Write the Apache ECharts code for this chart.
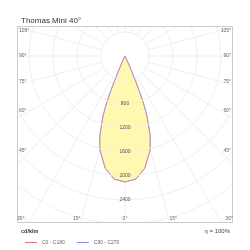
<!DOCTYPE html>
<html><head><meta charset="utf-8">
<script src="https://cdn.jsdelivr.net/npm/echarts@6/dist/echarts.min.js"></script>
<style>html,body{margin:0;padding:0;background:#fff}#c{width:250px;height:250px}</style>
</head><body><div id="c"></div>
<script>
// ---- data ----
const chartTitle = 'Thomas Mini 40°';
const unitLabel = 'cd/klm';
const efficiencyLabel = 'η = 100%';
const seriesNames = ['C0 - C180', 'C90 - C270'];
const gammaAngles = [0, 5, 10, 15, 17.5, 20, 21, 22, 23, 24, 25, 27.5, 30, 35, 40, 50, 60, 70, 80, 90];
const c0c180 =      [2100, 2060, 1900, 1620, 1400, 1080, 920, 700, 450, 220, 90, 20, 5, 0, 0, 0, 0, 0, 0, 0];
const c90c270 =     [2100, 2060, 1900, 1620, 1400, 1080, 920, 700, 450, 220, 90, 20, 5, 0, 0, 0, 0, 0, 0, 0];
const radiusLabels = [800, 1200, 1600, 2000, 2400];
const edgeAngles = [105, 90, 75, 60, 45, 30, 15, 0];

// ---- layout ----
const FONT = 'Liberation Sans';
const CX = 125, CY = 56;
const FR = {x0: 17, y0: 26, x1: 233, y1: 223};
const RMAX = 3600, RPX = 216;
const GRID = '#efefef';

function toPolar(side, values) {
  return gammaAngles.map((g, i) => [values[i], side < 0 ? (g === 0 ? 0 : 360 - g) : g]);
}
function lobe(values) {
  const left = toPolar(-1, values).slice().reverse();
  const right = toPolar(1, values).slice(1);
  return left.concat(right);
}

const chart = echarts.init(document.getElementById('c'));

function edgeHit(a, side) {
  const rad = a * Math.PI / 180;
  const dx = side * Math.sin(rad), dy = Math.cos(rad);
  let t = Infinity, kind = 'side';
  if (Math.abs(dx) > 1e-9) t = (side < 0 ? (CX - FR.x0) : (FR.x1 - CX)) / Math.abs(dx);
  if (dy > 1e-9) { const ty = (FR.y1 - CY) / dy; if (ty < t) { t = ty; kind = 'bottom'; } }
  if (dy < -1e-9) { const ty = (CY - FR.y0) / -dy; if (ty < t) { t = ty; kind = 'top'; } }
  return {x: CX + dx * t, y: CY + dy * t, kind};
}
const labelEls = [];
[-1, 1].forEach(side => {
  edgeAngles.forEach(a => {
    if (a === 0 && side > 0) return;
    const h = edgeHit(a, side);
    let x, y, align;
    if (h.kind === 'bottom') {
      x = CX + (h.x - CX) * 1.08; y = 219; align = 'center';
    } else {
      y = Math.max(31, CY + (h.y - CY) * 0.88);
      x = side < 0 ? 19 : 231; align = side < 0 ? 'left' : 'right';
    }
    labelEls.push({type: 'text', z: 210, x, y, style: {text: a + '°', fill: '#666', font: '5px ' + FONT, textAlign: align, textVerticalAlign: 'middle'}});
  });
});

const option = {
  animation: false,
  title: {text: chartTitle, left: 16, top: 12, z: 300, textStyle: {fontSize: 8, fontWeight: 'normal', color: '#333', fontFamily: FONT}},
  legend: {
    left: 20, top: 235, z: 300, itemWidth: 12, itemHeight: 1, itemGap: 12, icon: 'rect',
    data: seriesNames,
    textStyle: {fontSize: 5, color: '#666', fontFamily: FONT}
  },
  polar: [
    {center: [CX, CY], radius: RPX},
    {center: [CX, CY], radius: [24, 320]}
  ],
  angleAxis: [
    {polarIndex: 0, type: 'value', min: 0, max: 360, startAngle: 270, clockwise: true,
     axisLine: {show: false}, axisTick: {show: false}, axisLabel: {show: false}, splitLine: {show: false}},
    {polarIndex: 1, type: 'value', min: 0, max: 360, interval: 15, startAngle: 270,
     axisLine: {show: false}, axisTick: {show: false}, axisLabel: {show: false},
     splitLine: {show: true, lineStyle: {color: GRID, width: 1}}}
  ],
  radiusAxis: [
    {polarIndex: 0, type: 'value', min: 0, max: RMAX, interval: 400, z: 10,
     axisLine: {show: false}, axisTick: {show: false},
     axisLabel: {show: true, margin: 0, align: 'center', verticalAlign: 'middle', fontSize: 5, color: '#555', fontFamily: FONT,
       formatter: v => radiusLabels.includes(v) ? String(v) : ''},
     splitLine: {show: true, lineStyle: {color: GRID, width: 1}}},
    {polarIndex: 1, type: 'value', min: 0, max: 1, axisLine: {show: false}, axisTick: {show: false}, axisLabel: {show: false}, splitLine: {show: false}}
  ],
  series: [
    {name: seriesNames[0], type: 'line', coordinateSystem: 'polar', polarIndex: 0, symbol: 'none',
     data: lobe(c0c180), z: 3,
     lineStyle: {color: '#e87070', width: 0.8}, itemStyle: {color: '#e87070'},
     areaStyle: {color: '#fff8b0', opacity: 1}},
    {name: seriesNames[1], type: 'line', coordinateSystem: 'polar', polarIndex: 0, symbol: 'none',
     data: lobe(c90c270), z: 4,
     lineStyle: {color: '#8f8cf0', width: 0.8, opacity: 0.8}, itemStyle: {color: '#8f8cf0'}}
  ],
  graphic: [
    {type: 'rect', z: 200, shape: {x: 0, y: 0, width: 250, height: FR.y0}, style: {fill: '#fff'}},
    {type: 'rect', z: 200, shape: {x: 0, y: FR.y1, width: 250, height: 250 - FR.y1}, style: {fill: '#fff'}},
    {type: 'rect', z: 200, shape: {x: 0, y: 0, width: FR.x0, height: 250}, style: {fill: '#fff'}},
    {type: 'rect', z: 200, shape: {x: FR.x1, y: 0, width: 250 - FR.x1, height: 250}, style: {fill: '#fff'}},
    {type: 'rect', z: 205, shape: {x: FR.x0 + 0.5, y: FR.y0 + 0.5, width: FR.x1 - FR.x0 - 1, height: FR.y1 - FR.y0 - 1}, style: {fill: 'none', stroke: '#cccccc', lineWidth: 1}},
    {type: 'text', z: 210, x: 21, y: 231, style: {text: unitLabel, fill: '#333', font: 'bold 5.5px ' + FONT, textVerticalAlign: 'middle'}},
    {type: 'text', z: 210, x: 230, y: 231, style: {text: efficiencyLabel, fill: '#444', font: '6px ' + FONT, textAlign: 'right', textVerticalAlign: 'middle'}}
  ].concat(labelEls)
};
chart.setOption(option);
</script></body></html>
